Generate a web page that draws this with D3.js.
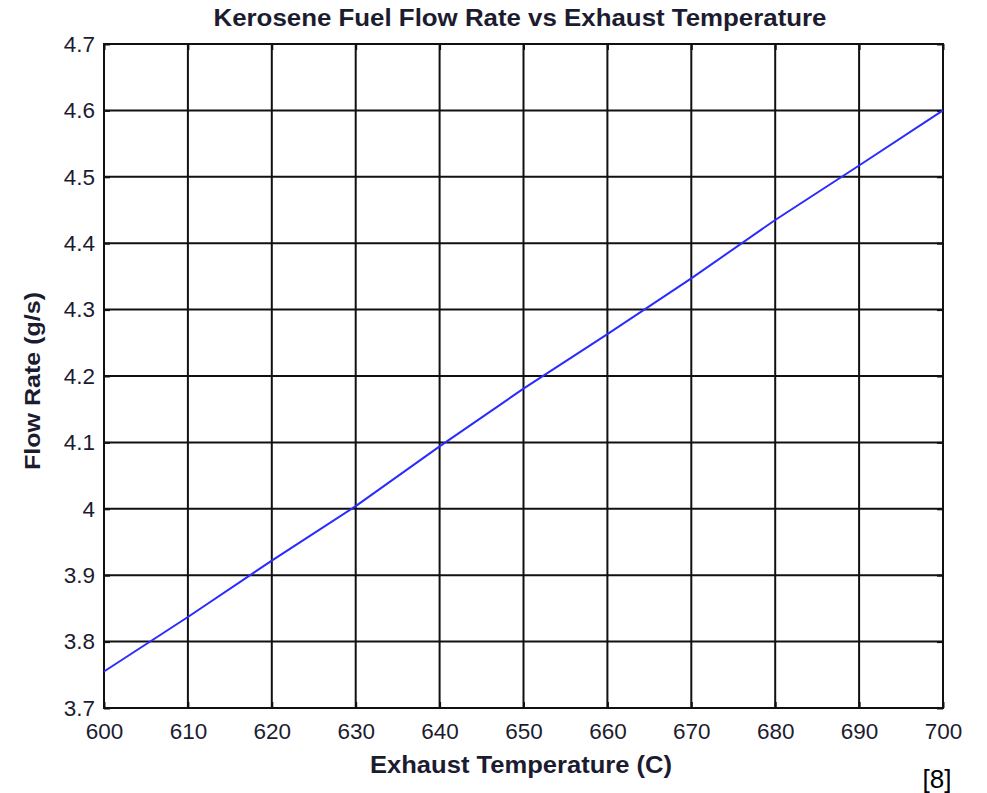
<!DOCTYPE html>
<html>
<head>
<meta charset="utf-8">
<script src="https://cdn.jsdelivr.net/npm/d3@7"></script>
<style>
  body { margin: 0; background: white; }
  text { font-family: "Liberation Sans", Arial, sans-serif; }
</style>
</head>
<body>
<div id="chart-area"></div>
<script>
// exhaust temperature (C) and kerosene flow rate (g/s)
var temps = [600, 610, 620, 630, 640, 650, 660, 670, 680, 690, 700];
var flows = [3.755, 3.837, 3.922, 4.004, 4.094, 4.181, 4.263, 4.347, 4.435, 4.517, 4.600];
var xTicks = [600, 610, 620, 630, 640, 650, 660, 670, 680, 690, 700];
var yTicks = [3.7, 3.8, 3.9, 4.0, 4.1, 4.2, 4.3, 4.4, 4.5, 4.6, 4.7];

var W = 987, H = 793;
var margin = {top: 44, right: 44, bottom: 85, left: 104};
var width = W - margin.left - margin.right;
var height = H - margin.top - margin.bottom;

var svg = d3.select("#chart-area").append("svg")
  .attr("width", W)
  .attr("height", H);

var g = svg.append("g")
  .attr("transform", "translate(" + margin.left + "," + margin.top + ")");

var x = d3.scaleLinear().domain([600, 700]).range([0, width]);
var y = d3.scaleLinear().domain([3.7, 4.7]).range([height, 0]);

// grid
g.selectAll(".vgrid").data(xTicks).enter().append("line")
  .attr("x1", d => x(d)).attr("x2", d => x(d))
  .attr("y1", 0).attr("y2", height)
  .attr("stroke", "#111").attr("stroke-width", 2);
g.selectAll(".hgrid").data(yTicks).enter().append("line")
  .attr("y1", d => y(d)).attr("y2", d => y(d))
  .attr("x1", 0).attr("x2", width)
  .attr("stroke", "#111").attr("stroke-width", 2);

// inward ticks on all four sides
var bottomAxis = d3.axisBottom(x).tickValues(xTicks).tickSize(-6).tickFormat(d => d);
var leftAxis = d3.axisLeft(y).tickValues(yTicks).tickSize(-6)
  .tickFormat(d => d === 4 ? "4" : d3.format(".1f")(d));

var bx = g.append("g").attr("transform", "translate(0," + height + ")").call(bottomAxis);
var ly = g.append("g").call(leftAxis);
g.append("g").attr("transform", "translate(0,0)")
  .call(d3.axisTop(x).tickValues(xTicks).tickSize(-6).tickFormat(""));
g.append("g").attr("transform", "translate(" + width + ",0)")
  .call(d3.axisRight(y).tickValues(yTicks).tickSize(-6).tickFormat(""));

g.selectAll(".domain").remove();
g.selectAll(".tick line").attr("stroke", "#111").attr("stroke-width", 2);

bx.selectAll("text")
  .attr("y", 15)
  .attr("font-size", "22.5px")
  .attr("font-family", "Liberation Sans, Arial, sans-serif")
  .attr("fill", "#1c1c30");
ly.selectAll("text")
  .attr("x", -9)
  .attr("font-size", "22.5px")
  .attr("font-family", "Liberation Sans, Arial, sans-serif")
  .attr("fill", "#1c1c30");

// frame
g.append("rect")
  .attr("x", 0).attr("y", 0)
  .attr("width", width).attr("height", height)
  .attr("fill", "none")
  .attr("stroke", "#111").attr("stroke-width", 2);

// data line
var line = d3.line()
  .x((d, i) => x(temps[i]))
  .y(d => y(d));
g.append("path")
  .datum(flows)
  .attr("d", line)
  .attr("fill", "none")
  .attr("stroke", "#2b2bff")
  .attr("stroke-width", 2);

// title and labels
svg.append("text")
  .attr("x", 520).attr("y", 26)
  .attr("text-anchor", "middle")
  .attr("font-size", "23px")
  .attr("font-weight", "bold")
  .attr("textLength", 613)
  .attr("lengthAdjust", "spacingAndGlyphs")
  .attr("fill", "#1c1c30")
  .text("Kerosene Fuel Flow Rate vs Exhaust Temperature");

svg.append("text")
  .attr("x", 521).attr("y", 773)
  .attr("text-anchor", "middle")
  .attr("font-size", "23px")
  .attr("font-weight", "bold")
  .attr("textLength", 302)
  .attr("lengthAdjust", "spacingAndGlyphs")
  .attr("fill", "#1c1c30")
  .text("Exhaust Temperature (C)");

svg.append("text")
  .attr("transform", "translate(40,381) rotate(-90)")
  .attr("text-anchor", "middle")
  .attr("font-size", "22px")
  .attr("font-weight", "bold")
  .attr("textLength", 178)
  .attr("lengthAdjust", "spacingAndGlyphs")
  .attr("fill", "#1c1c30")
  .text("Flow Rate (g/s)");

svg.append("text")
  .attr("x", 937).attr("y", 788)
  .attr("text-anchor", "middle")
  .attr("font-size", "26px")
  .attr("fill", "#000")
  .text("[8]");
</script>
</body>
</html>
